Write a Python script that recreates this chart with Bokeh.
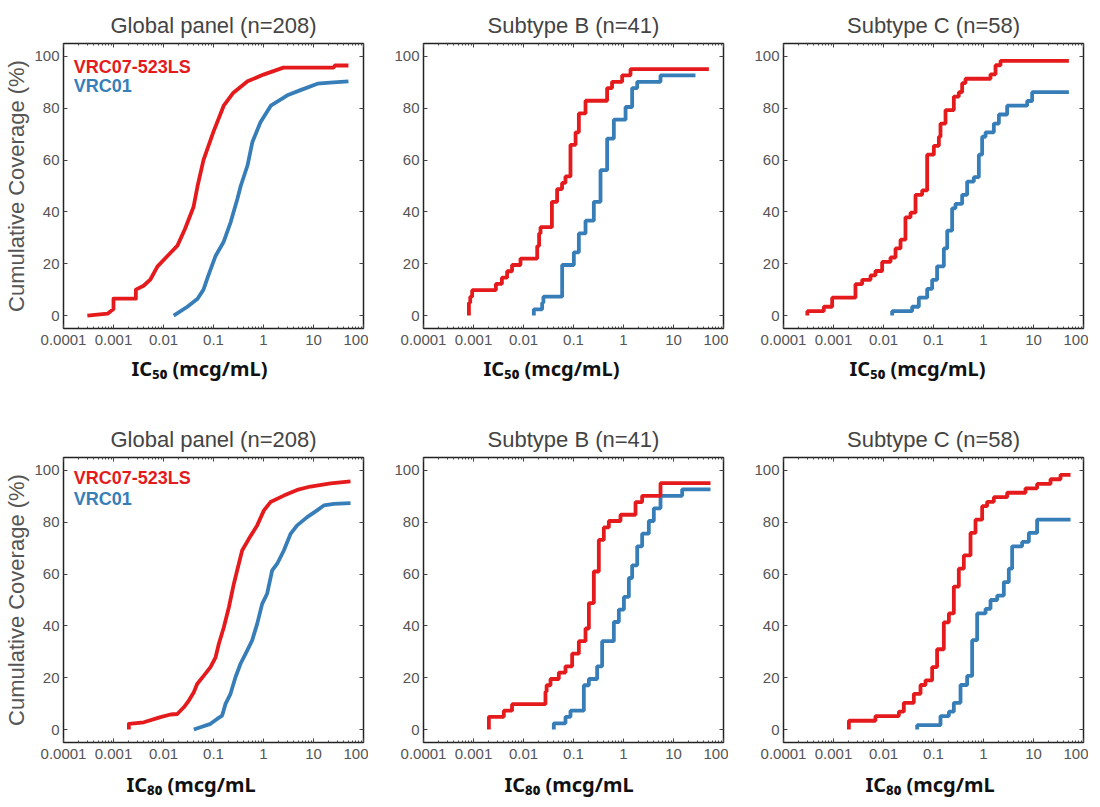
from bokeh.plotting import figure
from bokeh.models import (Range1d, FixedTicker, LogAxis, LinearAxis, Label, Title,
                          CustomJSTickFormatter)
from bokeh.layouts import gridplot
from bokeh.embed import file_html
from bokeh.resources import INLINE

RED = "#E41A1C"
BLUE = "#377EB8"

# ---------------- data ----------------
X_TICKS = [0.0001, 0.001, 0.01, 0.1, 1, 10, 100]
X_TICK_LABELS = ["0.0001", "0.001", "0.01", "0.1", "1", "10", "100"]
Y_TICKS = [0, 20, 40, 60, 80, 100]
X_MINOR = [k * 10.0 ** d for d in range(-4, 2) for k in range(2, 10)]

TITLES = ["Global panel (n=208)", "Subtype B (n=41)", "Subtype C (n=58)"]
SERIES_NAMES = ["VRC07-523LS", "VRC01"]
XLABEL_50 = "IC\u2085\u2080 (mcg/mL)"
XLABEL_80 = "IC\u2088\u2080 (mcg/mL"

# Global panel, IC50 (cumulative %, smooth)
G50_RED_X = [0.0003, 0.00076, 0.001, 0.001, 0.0028, 0.0028, 0.004, 0.0055, 0.0076, 0.012, 0.019, 0.027,
             0.04, 0.048, 0.063, 0.1, 0.16, 0.25, 0.48, 1.0, 2.5, 25, 27, 50]
G50_RED_Y = [0, 0.7, 2.5, 6.5, 6.5, 10, 11.5, 14, 19, 23, 27, 33.5,
             42, 50, 60, 71, 81, 86, 90.4, 93, 95.7, 95.7, 96.5, 96.5]
G50_BLUE_X = [0.016, 0.03, 0.048, 0.063, 0.079, 0.11, 0.16, 0.22, 0.3, 0.35, 0.48, 0.6, 0.87, 1.4,
              3, 5.5, 12, 25, 50]
G50_BLUE_Y = [0, 3.4, 6.5, 10, 15.5, 23, 28.5, 36, 45, 50, 58, 67, 74.6, 81,
              85, 87, 89.5, 90, 90.4]

# Subtype B, IC50 (steps)
B50_RED_X = [0.00081, 0.00081, 0.00086, 0.00094, 0.0028, 0.0037, 0.0047, 0.0059, 0.0087, 0.0188, 0.0205,
             0.0219, 0.037, 0.047, 0.059, 0.069, 0.087, 0.11, 0.128, 0.174, 0.47, 0.59, 0.94, 1.38, 51]
B50_RED_Y = [0, 4.9, 7.3, 9.8, 12.2, 14.6, 17.1, 19.5, 22.0, 26.8, 31.7,
             34.1, 43.9, 48.8, 51.2, 53.7, 65.9, 70.7, 78.0, 82.9, 87.8, 90.2, 92.7, 95.1, 95.1]
B50_BLUE_X = [0.0161, 0.0161, 0.0236, 0.025, 0.0593, 0.1016, 0.128, 0.174, 0.255, 0.347, 0.471, 0.641,
              1.1, 1.49, 1.88, 5.5, 27.5]
B50_BLUE_Y = [0, 2.4, 4.9, 7.3, 19.5, 24.4, 31.7, 36.6, 43.9, 56.1, 68.3, 75.6,
              80.5, 87.8, 90.2, 92.7, 92.7]

# Subtype C, IC50 (steps)
C50_RED_X = [0.0003, 0.0003, 0.00064, 0.00094, 0.00275, 0.00374, 0.0055, 0.0069, 0.0094, 0.0138, 0.0174,
             0.0219, 0.0275, 0.0347, 0.0437, 0.0593, 0.0747, 0.1016, 0.128, 0.138, 0.174, 0.255, 0.321,
             0.374, 0.436, 1.38, 1.74, 2.19, 51]
C50_RED_Y = [0, 1.7, 3.4, 6.9, 12.1, 13.8, 15.5, 17.2, 20.7, 22.4, 25.9,
             29.3, 37.9, 39.7, 46.6, 48.3, 62.1, 65.5, 69.0, 74.1, 79.3, 84.5, 86.2,
             89.7, 91.4, 93.1, 96.6, 98.3, 98.3]
C50_BLUE_X = [0.0149, 0.0149, 0.0374, 0.0509, 0.0747, 0.094, 0.118, 0.161, 0.188, 0.236, 0.275, 0.374,
              0.471, 0.641, 0.807, 0.94, 1.1, 1.61, 2.03, 2.97, 7.47, 9.4, 51]
C50_BLUE_Y = [0, 1.7, 3.4, 6.9, 10.3, 13.8, 19.0, 25.9, 32.8, 41.4, 43.1, 46.6,
              51.7, 53.4, 62.1, 69.0, 70.7, 74.1, 77.6, 81.0, 82.8, 86.2, 86.2]

# Global panel, IC80 (smooth)
G80_RED_X = [0.00203, 0.00203, 0.00404, 0.0087, 0.0138, 0.0188, 0.0255, 0.0321, 0.0404, 0.0471, 0.0641,
             0.0871, 0.11, 0.128, 0.161, 0.203, 0.255, 0.297, 0.374, 0.509, 0.747, 1.02, 1.38, 2.55,
             4.71, 8.7, 21.9, 55]
G80_RED_Y = [0, 2.2, 2.8, 4.8, 5.8, 6.0, 8.6, 11.2, 14.4, 17.6, 20.8,
             24.1, 27.9, 33.1, 39.5, 47.2, 56.2, 61.4, 69.1, 73.6, 78.8, 84.6, 87.8, 90.3,
             92.5, 93.8, 95.0, 95.8]
G80_BLUE_X = [0.0404, 0.055, 0.0871, 0.118, 0.149, 0.174, 0.219, 0.275, 0.347, 0.471, 0.593, 0.747,
              0.94, 1.18, 1.49, 1.88, 2.55, 3.47, 4.71, 7.47, 11.8, 16.1, 25.5, 55]
G80_BLUE_Y = [0, 0.9, 2.2, 4.1, 5.4, 9.9, 13.8, 20.2, 25.4, 30.5, 34.4, 40.8,
              48.5, 52.4, 61.4, 64.0, 69.1, 75.5, 78.8, 82.0, 84.6, 86.5, 87.1, 87.4]

# Subtype B, IC80 (steps)
B80_RED_X = [0.00203, 0.00203, 0.00404, 0.0059, 0.0275, 0.029, 0.0347, 0.0509, 0.0692, 0.094, 0.128,
             0.174, 0.203, 0.255, 0.321, 0.404, 0.509, 0.871, 1.74, 2.36, 5.5, 55]
B80_RED_Y = [0, 4.9, 7.3, 9.8, 14.6, 17.1, 19.5, 22.0, 24.4, 29.3, 34.1,
             39.0, 48.8, 61.0, 73.2, 78.0, 80.5, 82.9, 87.8, 90.2, 95.1, 95.1]
B80_BLUE_X = [0.0404, 0.0404, 0.0692, 0.0871, 0.161, 0.203, 0.297, 0.374, 0.641, 0.807, 1.02, 1.28,
              1.49, 1.88, 2.36, 3.21, 4.04, 5.5, 14.9, 55]
B80_BLUE_Y = [0, 2.4, 4.9, 7.3, 17.1, 19.5, 24.4, 34.1, 41.5, 46.3, 51.2, 58.5,
              63.4, 70.7, 75.6, 80.5, 85.4, 90.2, 92.7, 92.7]

# Subtype C, IC80 (steps)
C80_RED_X = [0.00203, 0.00203, 0.0069, 0.0203, 0.0255, 0.0404, 0.055, 0.0692, 0.094, 0.118, 0.161,
             0.203, 0.255, 0.321, 0.404, 0.55, 0.692, 0.94, 1.18, 1.61, 2.97, 6.92, 11.8, 21.9, 34.7, 55]
C80_RED_Y = [0, 3.4, 5.2, 6.9, 10.3, 13.8, 17.2, 19.0, 24.1, 31.0, 41.4,
             44.8, 55.2, 62.1, 67.2, 75.9, 81.0, 86.2, 87.9, 89.7, 91.4, 93.1, 94.8, 96.6, 98.3, 98.3]
C80_BLUE_X = [0.0471, 0.0471, 0.138, 0.203, 0.255, 0.347, 0.471, 0.593, 0.747, 1.1, 1.38, 1.88,
              2.55, 3.21, 3.74, 5.93, 8.07, 11.8, 55]
C80_BLUE_Y = [0, 1.7, 5.2, 6.9, 10.3, 17.2, 20.7, 34.5, 44.8, 46.6, 50.0, 51.7,
              56.9, 62.1, 70.7, 72.4, 75.9, 81.0, 81.0]

# ---------------- styling helpers ----------------
TICK_FONT = "Liberation Sans"
TICK_COLOR = "#555555"
FMT_CODE = """
const i = tick_vals.findIndex(t => Math.abs(Math.log10(t) - Math.log10(tick)) < 1e-6);
return i >= 0 ? tick_labels[i] : '';
"""


def style_axis(ax, show_labels):
    ax.axis_line_color = None
    ax.major_tick_in = 4
    ax.major_tick_out = 0
    ax.minor_tick_in = 2
    ax.minor_tick_out = 0
    ax.major_tick_line_color = "#444444"
    ax.minor_tick_line_color = "#444444"
    ax.major_tick_line_width = 1
    ax.minor_tick_line_width = 1
    if show_labels:
        ax.major_label_text_font = TICK_FONT
        ax.major_label_text_font_size = "15px"
        ax.major_label_text_color = TICK_COLOR
    else:
        ax.major_label_text_font_size = "0px"
        ax.major_label_standoff = 0


def make_panel(title, rx, ry, bx, by, smooth, row, col, xlabel, xlabel_offset):
    top = row == 0
    height = 408 if top else 399
    border_top = 43 if top else 49
    border_bottom = height - border_top - 285
    border_left = 63 if col == 0 else 55
    width = border_left + 300 + 5
    p = figure(width=width, height=height, x_axis_type="log",
               x_range=Range1d(1e-4, 100), y_range=Range1d(-5, 105),
               output_backend="svg", toolbar_location=None, tools="",
               min_border_left=border_left, min_border_right=5,
               min_border_top=border_top, min_border_bottom=border_bottom)
    p.background_fill_color = "white"
    p.border_fill_color = "white"
    p.outline_line_color = "#222222"
    p.outline_line_width = 1.5
    p.xgrid.visible = False
    p.ygrid.visible = False

    p.title.text = title
    p.title.align = "center"
    p.title.text_font = "Liberation Sans"
    p.title.text_font_size = "22px"
    p.title.text_font_style = "normal"
    p.title.text_color = "#444444"
    p.title.standoff = 12

    xa = p.xaxis[0]
    xa.ticker = FixedTicker(ticks=X_TICKS, minor_ticks=X_MINOR)
    xa.formatter = CustomJSTickFormatter(args=dict(tick_vals=X_TICKS, tick_labels=X_TICK_LABELS),
                                         code=FMT_CODE)
    style_axis(xa, True)
    xa.major_label_standoff = 6
    ya = p.yaxis[0]
    ya.ticker = FixedTicker(ticks=Y_TICKS)
    style_axis(ya, True)
    ya.major_label_standoff = 4
    if col == 0:
        ya.axis_label = "Cumulative Coverage (%)"
        ya.axis_label_text_font = "Liberation Sans"
        ya.axis_label_text_font_size = "22px"
        ya.axis_label_text_font_style = "normal"
        ya.axis_label_text_color = TICK_COLOR
        ya.axis_label_standoff = 2

    ta = LogAxis(ticker=FixedTicker(ticks=X_TICKS, minor_ticks=X_MINOR),
                 formatter=CustomJSTickFormatter(code="return '';"))
    style_axis(ta, False)
    p.add_layout(ta, "above")
    ra = LinearAxis(ticker=FixedTicker(ticks=Y_TICKS),
                    formatter=CustomJSTickFormatter(code="return '';"))
    style_axis(ra, False)
    p.add_layout(ra, "right")

    if smooth:
        p.line(bx, by, line_color=BLUE, line_width=3.8, line_join="round")
        p.line(rx, ry, line_color=RED, line_width=3.8, line_join="round")
    else:
        p.step(bx, by, mode="after", line_color=BLUE, line_width=3.8)
        p.step(rx, ry, mode="after", line_color=RED, line_width=3.8)

    if col == 0:
        ly = (95.8, 88.5) if top else (97.1, 89.0)
        for name, color, yy in zip(SERIES_NAMES, (RED, BLUE), ly):
            p.add_layout(Label(x=0.00016, y=yy, x_units="data", y_units="data", text=name,
                               text_font="Liberation Sans", text_font_style="bold",
                               text_font_size="18px", text_color=color,
                               text_baseline="middle", text_align="left"))

    p.add_layout(Title(text=xlabel, align="left", offset=xlabel_offset,
                       standoff=(10 if top else 15),
                       text_font="Noto Sans", text_font_style="bold",
                       text_font_size="20px", text_color="#111111"), "below")
    return p


panels = [
    make_panel(TITLES[0], G50_RED_X, G50_RED_Y, G50_BLUE_X, G50_BLUE_Y, True, 0, 0, XLABEL_50, 68),
    make_panel(TITLES[1], B50_RED_X, B50_RED_Y, B50_BLUE_X, B50_BLUE_Y, False, 0, 1, XLABEL_50, 60),
    make_panel(TITLES[2], C50_RED_X, C50_RED_Y, C50_BLUE_X, C50_BLUE_Y, False, 0, 2, XLABEL_50, 66),
    make_panel(TITLES[0], G80_RED_X, G80_RED_Y, G80_BLUE_X, G80_BLUE_Y, True, 1, 0, XLABEL_80, 63),
    make_panel(TITLES[1], B80_RED_X, B80_RED_Y, B80_BLUE_X, B80_BLUE_Y, False, 1, 1, XLABEL_80, 81),
    make_panel(TITLES[2], C80_RED_X, C80_RED_Y, C80_BLUE_X, C80_BLUE_Y, False, 1, 2, XLABEL_80, 82),
]

grid = gridplot([panels[:3], panels[3:]], toolbar_location=None)
open("out.html", "w").write(file_html(grid, INLINE))
